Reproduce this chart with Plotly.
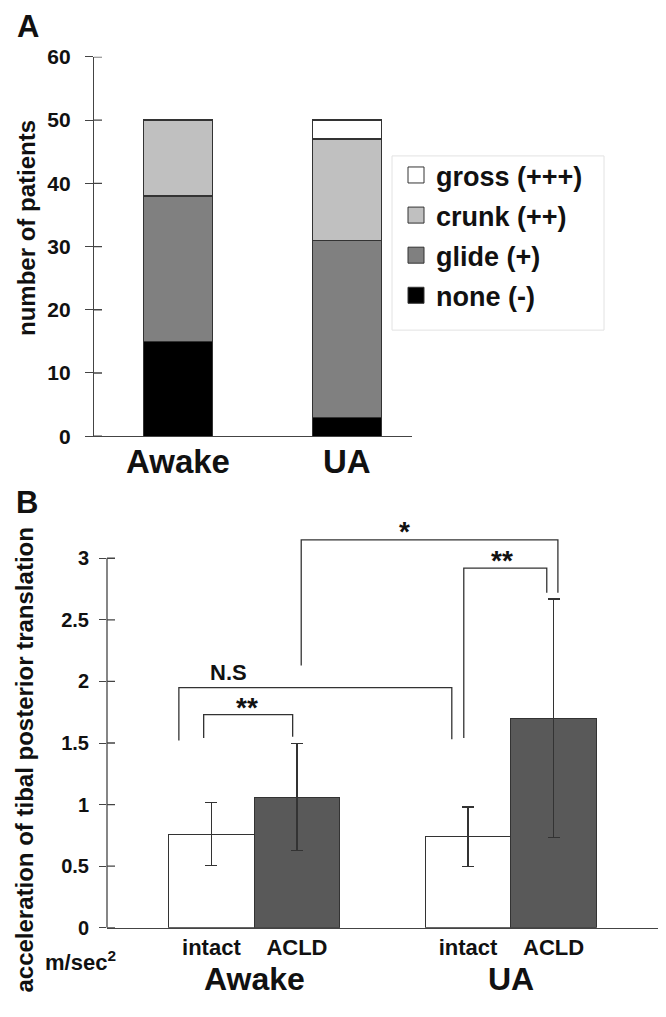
import plotly.graph_objects as go

# ---------------- Panel A data ----------------
categories_A = ["Awake", "UA"]
none_vals = [15, 3]
glide_vals = [23, 28]
crunk_vals = [12, 16]
gross_vals = [0, 3]
series_A = [
    ("none (-)", none_vals, "#000000"),
    ("glide (+)", glide_vals, "#808080"),
    ("crunk (++)", crunk_vals, "#c0c0c0"),
    ("gross (+++)", gross_vals, "#ffffff"),
]
yticks_A = [0, 10, 20, 30, 40, 50, 60]

# ---------------- Panel B data ----------------
groups_B = ["Awake", "UA"]
conditions_B = ["intact", "ACLD"]
intact_mean = [0.76, 0.74]
intact_sd = [0.255, 0.24]
acld_mean = [1.06, 1.70]
acld_sd = [0.435, 0.97]
yticks_B = [0, 0.5, 1, 1.5, 2, 2.5, 3]
yticklabels_B = ["0", "0.5", "1", "1.5", "2", "2.5", "3"]

# significance brackets: (x_left, x_right, y_top, y_left_end, y_right_end, label, label_x, label_y)
brackets = [
    (-0.09, 0.95, 1.73, 1.54, 1.55, "**", 0.42, 1.79),
    (-0.38, 2.81, 1.95, 1.52, 1.53, "N.S", 0.20, 2.07),
    (1.05, 4.05, 3.15, 2.13, 2.72, "*", 2.26, 3.22),
    (2.95, 3.92, 2.92, 1.54, 2.72, "**", 3.40, 2.98),
]

FONT = "Liberation Sans, Arial, sans-serif"
EDGE = "#333333"
AXC = "#444444"

OFF = 8
W, H = 666 - 2 * OFF, 1017 - 2 * OFF


def PX(x):
    return (x - OFF) / W


def PY(y):
    yc = (y - 12.4) / 0.976
    return 1 - (yc - OFF) / H


fig = go.Figure()

# Panel A stacked bars
xA = list(range(len(categories_A)))
for name, vals, col in series_A:
    fig.add_trace(go.Bar(
        x=xA, y=vals, width=0.41, name=name, showlegend=False,
        marker=dict(color=col, line=dict(color=EDGE, width=1.2)),
        xaxis="x", yaxis="y"))

# legend entries (top to bottom)
for name, vals, col in reversed(series_A):
    fig.add_trace(go.Scatter(
        x=[None], y=[None], mode="markers", name="<b>%s</b>" % name, legendgroup=name,
        marker=dict(symbol="square", size=16, color=col, line=dict(color=EDGE, width=1)),
        xaxis="x", yaxis="y"))

# Panel B bars
pos_intact = [0, 3]
pos_acld = [1, 4]
fig.add_trace(go.Bar(
    x=pos_intact, y=intact_mean, width=1, showlegend=False,
    marker=dict(color="#ffffff", line=dict(color=EDGE, width=1.2)),
    error_y=dict(type="data", array=intact_sd, color=EDGE, thickness=1.2, width=6),
    xaxis="x2", yaxis="y2"))
fig.add_trace(go.Bar(
    x=pos_acld, y=acld_mean, width=1, showlegend=False,
    marker=dict(color="#595959", line=dict(color=EDGE, width=1.2)),
    error_y=dict(type="data", array=acld_sd, color=EDGE, thickness=1.2, width=6),
    xaxis="x2", yaxis="y2"))

# brackets
annotations = []
for (xl, xr, yt, yl, yr, lab, lx, ly) in brackets:
    fig.add_trace(go.Scatter(
        x=[xl, xl, xr, xr], y=[yl, yt, yt, yr], mode="lines",
        line=dict(color=EDGE, width=1.3), showlegend=False, hoverinfo="skip",
        xaxis="x2", yaxis="y2"))
    annotations.append(dict(
        x=lx, y=ly, xref="x2", yref="y2", text="<b>%s</b>" % lab, showarrow=False,
        xanchor="center", yanchor="middle",
        font=dict(family=FONT, size=28 if "*" in lab else 22, color="#111")))

# category labels in A
for cx, c in zip(xA, categories_A):
    annotations.append(dict(
        x=cx, xref="x", y=PY(461), yref="paper", text="<b>%s</b>" % c, showarrow=False,
        xanchor="center", yanchor="middle", font=dict(family=FONT, size=33, color="#111")))

# group labels in B
for gx, g in zip([0.5, 3.5], groups_B):
    annotations.append(dict(
        x=gx, xref="x2", y=PY(978), yref="paper", text="<b>%s</b>" % g, showarrow=False,
        xanchor="center", yanchor="middle", font=dict(family=FONT, size=32, color="#111")))

# panel letters, axis titles, unit
annotations += [
    dict(x=PX(15), y=PY(27), xref="paper", yref="paper", text="<b>A</b>",
         showarrow=False, xanchor="left", yanchor="middle",
         font=dict(family=FONT, size=31, color="#111")),
    dict(x=PX(14), y=PY(502), xref="paper", yref="paper", text="<b>B</b>",
         showarrow=False, xanchor="left", yanchor="middle",
         font=dict(family=FONT, size=31, color="#111")),
    dict(x=PX(26), y=PY(228), xref="paper", yref="paper",
         text="<b>number of patients</b>", textangle=-90, showarrow=False,
         xanchor="center", yanchor="middle", font=dict(family=FONT, size=24, color="#111")),
    dict(x=PX(25), y=PY(760), xref="paper", yref="paper",
         text="<b>acceleration of tibal posterior translation</b>", textangle=-90,
         showarrow=False, xanchor="center", yanchor="middle",
         font=dict(family=FONT, size=24, color="#111")),
    dict(x=PX(80), y=PY(960), xref="paper", yref="paper",
         text="<b>m/sec<sup>2</sup></b>", showarrow=False, xanchor="center",
         yanchor="middle", font=dict(family=FONT, size=22, color="#111")),
]

# tick crosses (inside part) and B y-axis line
shapes = []
for v in yticks_A:
    shapes.append(dict(type="line", xref="x domain", yref="y", xsizemode="pixel",
                       xanchor=0, x0=0, x1=8, y0=v, y1=v,
                       line=dict(color=AXC, width=1.3)))
for v in yticks_B:
    shapes.append(dict(type="line", xref="x2 domain", yref="y2", xsizemode="pixel",
                       xanchor=0, x0=0, x1=8, y0=v, y1=v,
                       line=dict(color=AXC, width=1.3)))
shapes.append(dict(type="line", xref="x2 domain", yref="y2", x0=0, x1=0,
                   y0=yticks_B[0], y1=yticks_B[-1], line=dict(color=AXC, width=1.3)))
# legend frame
shapes.append(dict(type="rect", xref="paper", yref="paper",
                   x0=PX(392), x1=PX(604), y0=PY(330), y1=PY(156),
                   line=dict(color="#e2e2e2", width=1), fillcolor="rgba(0,0,0,0)"))

fig.update_layout(
    width=W, height=H, margin=dict(l=0, r=0, t=0, b=0),
    paper_bgcolor="white", plot_bgcolor="white", barmode="stack",
    font=dict(family=FONT, color="#111"),
    showlegend=True,
    legend=dict(x=PX(396), y=PY(151), xanchor="left", yanchor="top",
                bgcolor="rgba(0,0,0,0)", borderwidth=0, traceorder="grouped",
                tracegroupgap=2, font=dict(family=FONT, size=27, color="#111"),
                itemclick=False),
    xaxis=dict(domain=[PX(94), PX(412)], range=[-0.5, 1.386], anchor="y",
               showticklabels=False, ticks="", showline=True, linecolor=AXC, linewidth=1.3,
               showgrid=False, zeroline=False),
    yaxis=dict(domain=[PY(436), PY(57)], range=[0, 60], anchor="x",
               tickvals=yticks_A, ticktext=["<b>%d</b>" % v for v in yticks_A],
               ticks="outside", ticklen=8, tickwidth=1.3, tickcolor=AXC,
               ticklabelstandoff=10, showline=True, linecolor=AXC, linewidth=1.3,
               showgrid=False, zeroline=False,
               tickfont=dict(family=FONT, size=21, color="#111")),
    xaxis2=dict(domain=[PX(107), PX(658)], range=[-1.22, 5.22], anchor="y2",
                tickvals=pos_intact + pos_acld,
                ticktext=["<b>%s</b>" % conditions_B[0]] * 2 + ["<b>%s</b>" % conditions_B[1]] * 2,
                ticks="", showline=True, linecolor=AXC, linewidth=1.3,
                showgrid=False, zeroline=False,
                tickfont=dict(family=FONT, size=22, color="#111")),
    yaxis2=dict(domain=[PY(927), PY(521)], range=[0, 3.3], anchor="x2",
                tickvals=yticks_B, ticktext=["<b>%s</b>" % t for t in yticklabels_B],
                ticks="outside", ticklen=7, tickwidth=1.3, tickcolor=AXC,
                ticklabelstandoff=6, showline=False,
                showgrid=False, zeroline=False,
                tickfont=dict(family=FONT, size=20, color="#111")),
    annotations=annotations,
    shapes=shapes,
)

fig.write_html("out.html")
